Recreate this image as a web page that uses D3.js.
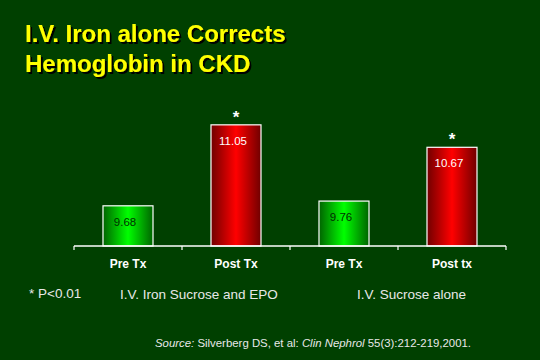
<!DOCTYPE html>
<html>
<head>
<meta charset="utf-8">
<script src="https://cdn.jsdelivr.net/npm/d3@7"></script>
<style>
  html, body { margin: 0; padding: 0; background: #004000; }
  svg { display: block; }
</style>
</head>
<body>
<script>
const categories = ["Pre Tx", "Post Tx", "Pre Tx", "Post tx"];
const values = [9.68, 11.05, 9.76, 10.67];
const valueLabels = ["9.68", "11.05", "9.76", "10.67"];
const kinds = ["pre", "post", "pre", "post"];
const significant = [false, true, false, true];
const groupLabels = ["I.V. Iron Sucrose and EPO", "I.V. Sucrose alone"];
const titleLines = ["I.V. Iron alone Corrects", "Hemoglobin in CKD"];

const W = 540, H = 360;
const FONT = "Liberation Sans, Arial, sans-serif";
const svg = d3.select("body").append("svg").attr("width", W).attr("height", H);
svg.append("rect").attr("width", W).attr("height", H).attr("fill", "#004000");

const defs = svg.append("defs");
function grad(id, dark, bright) {
  const g = defs.append("linearGradient").attr("id", id).attr("x1", "0%").attr("x2", "100%").attr("y1", "0%").attr("y2", "0%");
  g.append("stop").attr("offset", "0%").attr("stop-color", dark);
  g.append("stop").attr("offset", "50%").attr("stop-color", bright);
  g.append("stop").attr("offset", "100%").attr("stop-color", dark);
}
grad("gGreen", "#006400", "#00ff00");
grad("gRed", "#700000", "#ff0000");
const shadow = defs.append("filter").attr("id", "shadow").attr("x", "-5%").attr("y", "-20%").attr("width", "115%").attr("height", "150%");
shadow.append("feDropShadow").attr("dx", 2).attr("dy", 2).attr("stdDeviation", 0).attr("flood-color", "#000").attr("flood-opacity", 1);

// Title with shadow
const title = svg.append("g").attr("font-family", FONT).attr("font-weight", "bold").attr("font-size", 24).attr("filter", "url(#shadow)");
titleLines.forEach((t, i) => {
  title.append("text").attr("x", 25).attr("y", 42 + i * 30).attr("fill", "#ffff00").text(t);
});

const x = d3.scaleBand().domain(d3.range(categories.length)).range([74, 506]).paddingInner(0).paddingOuter(0);
const y = d3.scaleLinear().domain([9, 12]).range([246, 68.7]);
const barW = 50;

// Bars
svg.append("g").selectAll("rect").data(values).join("rect")
  .attr("x", (d, i) => x(i) + x.bandwidth() / 2 - barW / 2)
  .attr("y", d => y(d))
  .attr("width", barW)
  .attr("height", d => y(9) - y(d))
  .attr("fill", (d, i) => kinds[i] === "pre" ? "url(#gGreen)" : "url(#gRed)")
  .attr("stroke", "#ffffff").attr("stroke-width", 1.2);

// Value labels
svg.append("g").selectAll("text").data(values).join("text")
  .attr("x", (d, i) => x(i) + x.bandwidth() / 2 - 3)
  .attr("y", (d, i) => y(d) + 20)
  .attr("text-anchor", "middle")
  .attr("font-family", FONT)
  .attr("font-size", 11.5)
  .attr("fill", (d, i) => kinds[i] === "pre" ? "#003000" : "#ffffff")
  .text((d, i) => valueLabels[i]);

// Significance stars
const starData = values.map((v, i) => ({ v, i })).filter(d => significant[d.i]);
svg.append("g").selectAll("text").data(starData).join("text")
  .attr("x", d => x(d.i) + x.bandwidth() / 2)
  .attr("y", d => y(d.v) - 2)
  .attr("text-anchor", "middle")
  .attr("font-family", FONT)
  .attr("font-weight", "bold")
  .attr("font-size", 17)
  .attr("fill", "#ffffff")
  .text("*");

// Axis
const axis = d3.axisBottom(x).tickSize(0).tickFormat(i => categories[i]);
const ax = svg.append("g").attr("transform", `translate(0,${y(9)})`).call(axis);
ax.select(".domain").attr("stroke", "#ffffff").attr("stroke-width", 1.5).attr("d", "M74,0H506");
ax.selectAll(".tick text")
  .attr("fill", "#ffffff").attr("font-family", FONT)
  .attr("font-weight", "bold").attr("font-size", 12).attr("dy", 0).attr("y", 22);
const bounds = d3.range(categories.length + 1).map(i => i < categories.length ? x(i) : x(categories.length - 1) + x.bandwidth());
ax.selectAll("line.b").data(bounds).join("line").attr("class", "b")
  .attr("x1", d => d).attr("x2", d => d).attr("y1", 0).attr("y2", 4)
  .attr("stroke", "#ffffff").attr("stroke-width", 1.2);

// Footer
const foot = svg.append("g").attr("font-family", FONT).attr("fill", "#e8e8e8").attr("font-size", 13.5);
foot.append("text").attr("x", 29).attr("y", 298).text("* P<0.01");
foot.append("text").attr("x", 120).attr("y", 299).text(groupLabels[0]);
foot.append("text").attr("x", 357).attr("y", 299).text(groupLabels[1]);

const src = svg.append("text").attr("x", 155).attr("y", 347)
  .attr("font-family", FONT).attr("font-size", 11.4).attr("fill", "#e8e8e8");
src.append("tspan").attr("font-style", "italic").text("Source:");
src.append("tspan").text(" Silverberg DS, et al: ");
src.append("tspan").attr("font-style", "italic").text("Clin Nephrol");
src.append("tspan").text(" 55(3):212-219,2001.");
</script>
</body>
</html>
